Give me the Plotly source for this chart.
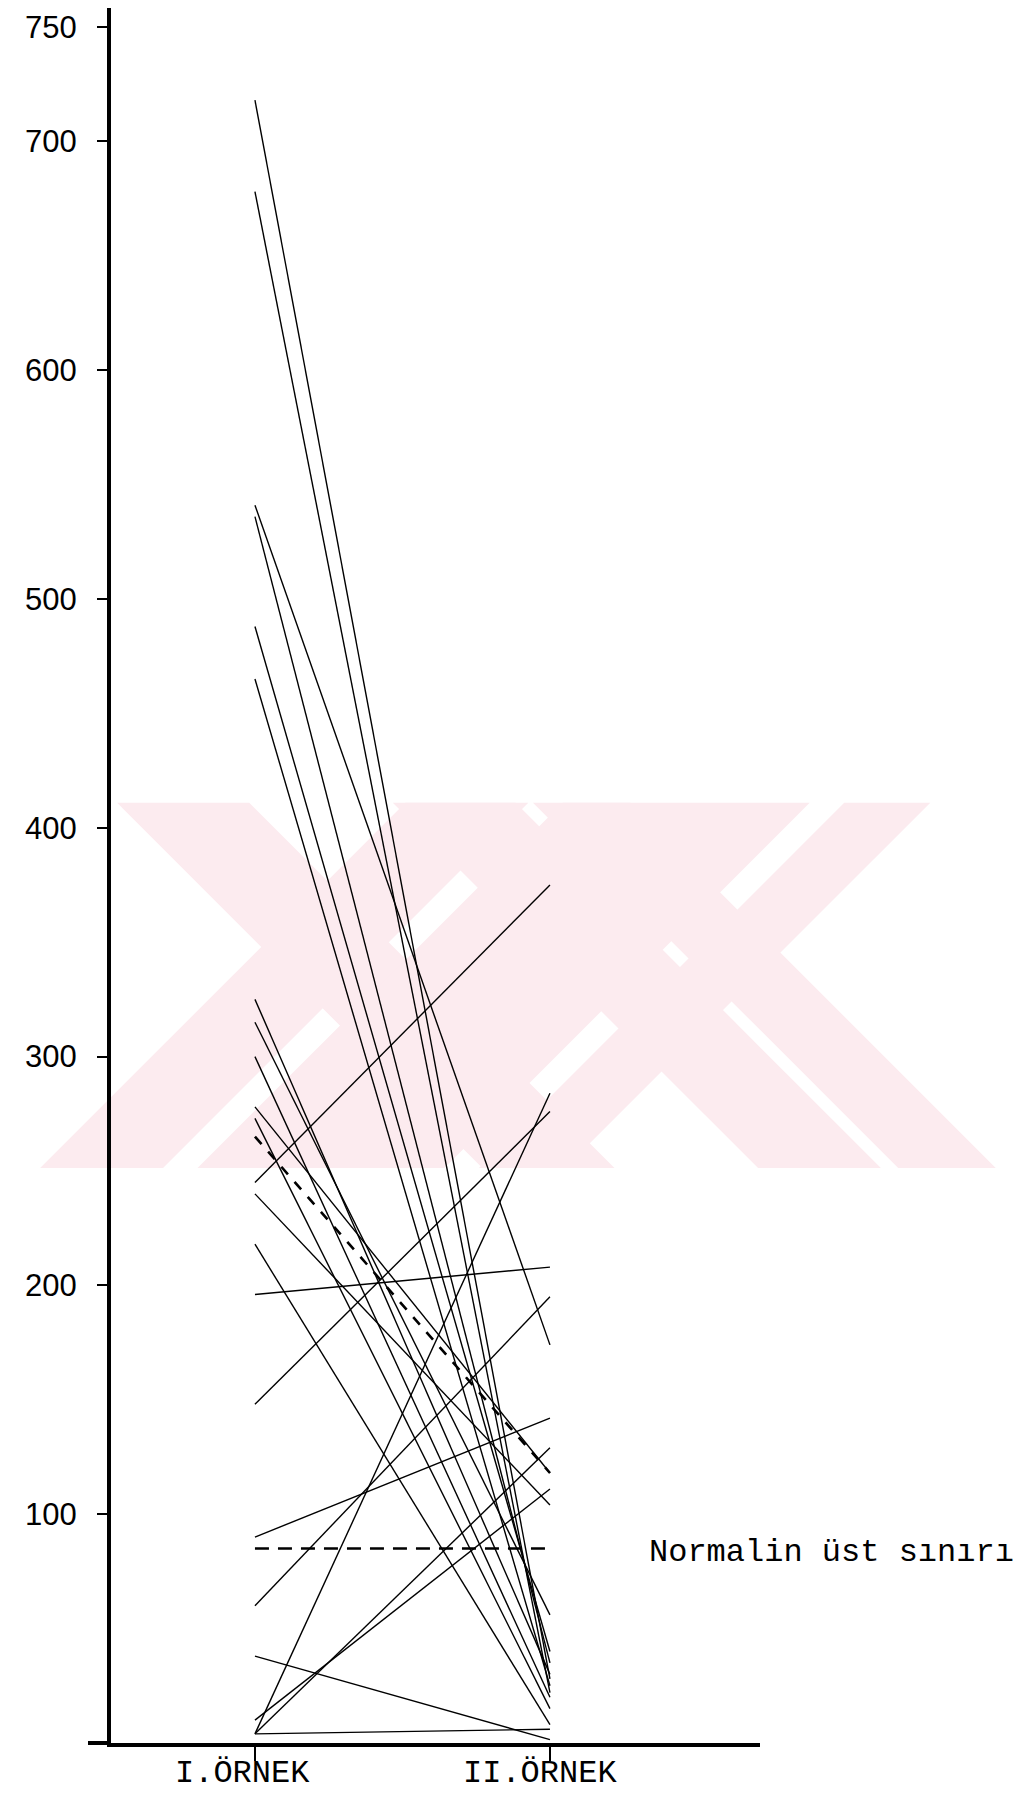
import plotly.graph_objects as go

# ---- data ----
samples = ["I.ÖRNEK", "II.ÖRNEK"]
first_sample = [718, 678, 541, 536, 488, 465, 325, 315, 300, 278, 273, 245,
                240, 218, 196, 148, 90, 60, 38, 10, 4, 4, 4]
second_sample = [28, 22, 174, 35, 40, 25, 30, 56, 20, 118, 15, 375,
                 104, 8, 208, 276, 142, 195, 1.5, 111, 129, 284, 6]
mean_line = [265, 118]
normal_upper = [85, 85]
normal_label = "Normalin üst sınırı"
y_ticks = [100, 200, 300, 400, 500, 600, 700, 750]
y_ticktext = ["100", "200", "300", "400", "500", "600", "700", "750"]

W, H = 1028, 1801
L, R, T, B = 103, 276, 0, 66
PW, PH = W - L - R, H - T - B


def to_paper(px, py):
    return (px - L) / PW, (H - B - py) / PH


fig = go.Figure()
xs = [0, 1]
for a, b in zip(first_sample, second_sample):
    fig.add_trace(go.Scatter(x=xs, y=[a, b], mode="lines",
                             line=dict(color="black", width=1.4),
                             hoverinfo="skip", showlegend=False))

fig.add_trace(go.Scatter(x=xs, y=mean_line, mode="lines",
                         line=dict(color="black", width=2.6, dash="10px,10px"),
                         hoverinfo="skip", showlegend=False))
fig.add_trace(go.Scatter(x=xs, y=normal_upper, mode="lines",
                         line=dict(color="black", width=2.6, dash="14px,9px"),
                         hoverinfo="skip", showlegend=False))

fig.add_annotation(x=1.33, y=normal_upper[1], xref="x", yref="y",
                   text=normal_label, showarrow=False, xanchor="left",
                   yanchor="middle", yshift=-4,
                   font=dict(family="Liberation Mono", size=32, color="black"))

# category labels under the axis
for xv, lab, sh in zip(xs, samples, [-12, -10]):
    fig.add_annotation(x=xv, y=0, xref="x", yref="paper", text=lab,
                       showarrow=False, xanchor="center", yanchor="top",
                       xshift=sh, yshift=-10,
                       font=dict(family="Liberation Mono", size=32, color="black"))

# faint pink watermark of the scanned page (decoration, not data)
s = W / 895.0
y_top, y_bot = 692, 1010
back_bands = [(-597, -482), (-357, -250), (-235, -150)]
fwd_bands = [(1038, 1145), (1175, 1390), (1420, 1495)]
shapes = []


def poly(pts):
    pp = [to_paper(max(px, 0) * s, py * s) for px, py in pts]
    d = "M " + " L ".join(f"{x:.4f},{y:.4f}" for x, y in pp) + " Z"
    return dict(type="path", path=d, xref="paper", yref="paper",
                fillcolor="#fcebef", line=dict(width=0), layer="below")


for c1, c2 in back_bands:
    shapes.append(poly([(c1 + y_top, y_top), (c2 + y_top, y_top),
                        (c2 + y_bot, y_bot), (c1 + y_bot, y_bot)]))
for c1, c2 in fwd_bands:
    shapes.append(poly([(c1 - y_top, y_top), (c2 - y_top, y_top),
                        (c2 - y_bot, y_bot), (c1 - y_bot, y_bot)]))

# x-axis line overshooting to the left of the y axis
x0p, _ = to_paper(80, 0)
shapes.append(dict(type="line", xref="paper", yref="paper", x0=x0p, x1=0,
                   y0=0, y1=0, line=dict(color="black", width=4)))

fig.update_layout(shapes=shapes)

fig.update_xaxes(range=[-0.488, 1.712], tickmode="array", tickvals=xs,
                 ticktext=["", ""], showgrid=False, zeroline=False,
                 showline=True, linecolor="black", linewidth=4,
                 ticks="outside", ticklen=14, tickwidth=2, tickcolor="black")
fig.update_yaxes(range=[0, 758.3], tickmode="array", tickvals=y_ticks,
                 ticktext=y_ticktext, showgrid=False, zeroline=False,
                 showline=True, linecolor="black", linewidth=4,
                 ticks="outside", ticklen=10, tickwidth=2, tickcolor="black",
                 ticklabelstandoff=14,
                 tickfont=dict(family="Liberation Sans", size=31, color="black"))

fig.update_layout(width=W, height=H,
                  margin=dict(l=L, r=R, t=T, b=B, pad=0),
                  paper_bgcolor="white", plot_bgcolor="rgba(0,0,0,0)")

fig.write_html("out.html")
